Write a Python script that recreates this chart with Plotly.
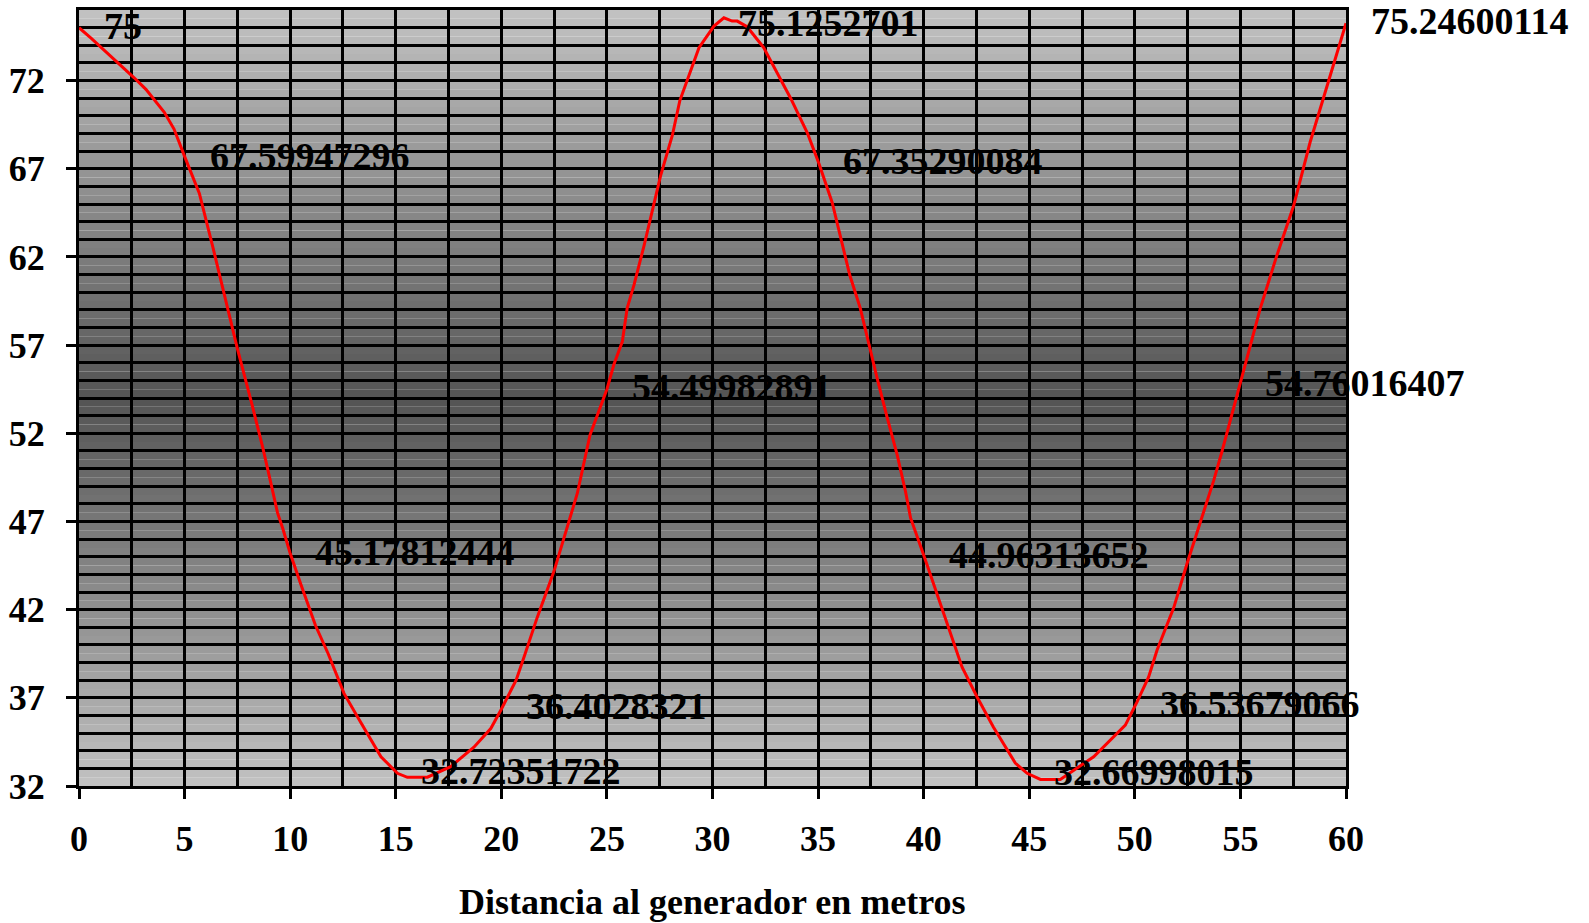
import plotly.graph_objects as go

# Curve readings (distance in m, value)
x_curve = [0.0, 0.57, 2.6, 3.17, 4.04, 4.5, 5.0, 5.7, 6.33, 6.9, 7.5, 8.2, 8.7, 9.1, 9.4, 9.65,
           10.0, 10.5, 11.2, 11.8, 12.55, 13.2, 14.3, 15.08, 15.55, 16.5, 17.6, 18.7, 19.5, 20.0,
           20.7, 21.1, 21.7, 22.5, 23.1, 23.6, 24.2, 25.0, 25.33, 25.73, 25.96, 26.28, 26.75, 27.23,
           27.54, 28.1, 28.45, 29.36, 30.07, 30.54, 30.93, 31.17, 31.64, 32.43, 33.7, 34.5, 35.04,
           35.67, 36.06, 36.5, 37.0, 37.4, 37.8, 38.27, 38.74, 39.14, 39.38, 40.0, 40.8, 41.27,
           41.82, 42.53, 43.3, 44.34, 44.9, 45.53, 46.47, 48.05, 49.55, 50.1, 50.65, 51.05, 51.84,
           52.47, 53.1, 53.73, 54.13, 55.0, 55.94, 56.73, 57.52, 58.3, 59.1, 60.0]
y_curve = [75.0, 74.4, 72.17, 71.5, 70.2, 69.25, 67.7, 65.6, 62.6, 59.7, 56.8, 53.6, 51.2, 49.1, 47.5, 46.6,
           45.2, 43.45, 41.1, 39.5, 37.25, 35.9, 33.66, 32.72, 32.49, 32.5, 33.1, 34.2, 35.26, 36.35,
           38.0, 39.4, 41.56, 44.2, 46.65, 48.6, 51.9, 54.5, 55.9, 57.2, 59.1, 60.4, 62.6, 65.1,
           66.6, 68.9, 70.85, 73.86, 75.09, 75.56, 75.37, 75.37, 75.05, 73.86, 71.0, 69.0, 67.3,
           65.07, 63.2, 60.97, 59.08, 57.0, 55.1, 52.9, 50.8, 48.7, 47.2, 45.1, 42.3, 40.6,
           38.74, 37.05, 35.35, 33.3, 32.72, 32.37, 32.37, 33.66, 35.45, 36.76, 38.17, 39.7, 42.1,
           44.6, 47.0, 49.3, 50.98, 54.8, 59.08, 62.1, 64.9, 68.5, 71.7, 75.25]

# Labelled points
x_labels = [0, 5, 10, 15, 20, 25, 30, 35, 40, 45, 50, 55, 60]
y_labels = [75, 67.59947296, 45.17812444, 32.72351722, 36.4028321, 54.49982891, 75.1252701,
            67.35290084, 44.96313652, 32.66998015, 36.53679066, 54.76016407, 75.24600114]
label_texts = ["75", "67.59947296", "45.17812444", "32.72351722", "36.4028321", "54.49982891",
               "75.1252701", "67.35290084", "44.96313652", "32.66998015", "36.53679066",
               "54.76016407", "75.24600114"]

x_title = "Distancia al generador en metros"
Y_MIN, Y_MAX = 32, 76
X_MIN, X_MAX = 0, 60

FONT = "Liberation Serif"
FS_TICK = 36
FS_LABEL = 38

fig = go.Figure()

# gradient background via stacked rectangles (light at edges, dark in middle)
shapes = []
n = 88
light, dark = 194, 84
for i in range(n):
    y0 = Y_MIN + (Y_MAX - Y_MIN) * i / n
    y1 = Y_MIN + (Y_MAX - Y_MIN) * (i + 1) / n
    t = abs(((i + 0.5) / n) - 0.5) * 2  # 0 at centre, 1 at edges
    c = int(round(dark + (light - dark) * t))
    shapes.append(dict(type="rect", xref="x", yref="y", x0=X_MIN, x1=X_MAX, y0=y0, y1=y1,
                       fillcolor=f"rgb({c},{c},{c})", line=dict(width=0), layer="below"))

fig.add_trace(go.Scatter(x=x_curve, y=y_curve, mode="lines",
                         line=dict(color="#ff0000", width=3), hoverinfo="skip",
                         showlegend=False, cliponaxis=False))

annotations = []
for xv, yv, tx in zip(x_labels, y_labels, label_texts):
    annotations.append(dict(x=xv, y=yv, xref="x", yref="y", text=tx, showarrow=False,
                            xanchor="left", yanchor="middle", xshift=23, yshift=2,
                            font=dict(family=FONT, size=FS_LABEL, color="black", weight="bold")))
annotations.append(dict(x=0.5, y=-(902 - 786) / 779, xref="paper", yref="paper", text=x_title,
                        showarrow=False, xanchor="center", yanchor="middle",
                        font=dict(family=FONT, size=FS_TICK, color="black", weight="bold")))

fig.update_layout(
    width=1589, height=923,
    margin=dict(l=79, r=243, t=7, b=137),
    paper_bgcolor="white", plot_bgcolor="rgba(0,0,0,0)",
    shapes=shapes, annotations=annotations, showlegend=False,
    xaxis=dict(range=[X_MIN, X_MAX], tick0=0, dtick=5, showgrid=True, gridcolor="black", gridwidth=3,
               minor=dict(dtick=2.5, showgrid=True, gridcolor="black", gridwidth=3),
               ticks="outside", ticklen=10, tickwidth=3, tickcolor="black",
               showline=True, mirror=True, linecolor="black", linewidth=3,
               tickfont=dict(family=FONT, size=FS_TICK, color="black", weight="bold"),
               ticklabelstandoff=9, zeroline=False, fixedrange=True),
    yaxis=dict(range=[Y_MIN, Y_MAX], tick0=32, dtick=5, showgrid=True, gridcolor="black", gridwidth=3,
               minor=dict(dtick=1, showgrid=True, gridcolor="black", gridwidth=3),
               ticks="outside", ticklen=10, tickwidth=3, tickcolor="black",
               showline=True, mirror=True, linecolor="black", linewidth=3,
               tickfont=dict(family=FONT, size=FS_TICK, color="black", weight="bold"),
               ticklabelstandoff=14, zeroline=False, fixedrange=True),
)

fig.write_html("out.html")
